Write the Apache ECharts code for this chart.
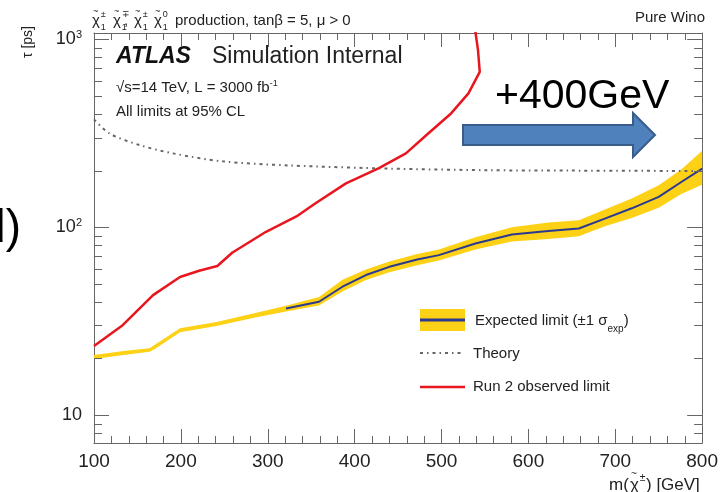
<!DOCTYPE html>
<html>
<head>
<meta charset="utf-8">
<script src="https://cdn.jsdelivr.net/npm/echarts@6/dist/echarts.min.js"></script>
<style>
  html, body { margin: 0; padding: 0; background: #fff; }
  #chart { width: 721px; height: 492px; }
</style>
</head>
<body>
<div id="chart"></div>
<script>
// Axis ranges and tick values
const massMin = 100, massMax = 800, massStep = 100;
const tauMin = 7.1, tauMax = 1080;
const tauMinorTicks = [8, 9, 20, 30, 40, 50, 60, 70, 80, 90, 200, 300, 400, 500, 600, 700, 800, 900];

// Run 2 observed limit (chargino mass [GeV], lifetime [ps])
const obsMass = [100, 133, 168, 199, 221, 242, 259, 298, 333, 355, 390, 428, 459, 485, 511, 531, 544, 542, 539];
const obsTau  = [23.3, 30.1, 43.5, 54.3, 58.6, 62.1, 73.1, 94.5, 114, 134, 171, 206, 247, 316, 403, 515, 671, 876, 1097];

// Theory prediction, pure wino
const thMass = [100, 118, 153, 191, 248, 325, 440, 551, 650, 800];
const thTau  = [375, 315, 273, 247, 224, 213, 205, 201, 200, 199];

// Expected limit with its +-1 sigma band
const expMass = [100, 134, 164, 170, 199, 241, 287, 321, 359, 386, 413, 440, 472, 497, 539, 581, 623, 658, 688, 719, 750, 776, 800];
const expTau  = [20.4, 21.4, 22.2, 23.1, 28.3, 30.5, 34.1, 36.9, 40.1, 48.2, 55.6, 61.5, 67.3, 71.0, 81.8, 91.4, 95.3, 98.4, 111, 126, 145, 174, 205];
const expLow  = [19.9, 20.9, 21.7, 22.5, 27.6, 29.8, 33.2, 35.6, 38.3, 45.5, 52.3, 57.6, 62.8, 66.5, 76.0, 84.0, 86.5, 89.5, 101, 112, 127, 150, 168];
const expHigh = [20.9, 21.9, 22.7, 23.7, 29.0, 31.3, 35.0, 38.2, 42.5, 52.5, 59.5, 65.6, 72.0, 76.0, 88.5, 100, 106, 109, 124, 142, 167, 203, 255];
const expLineFrom = 321; // central expected curve is drawn from this mass on

const FONT = '"Liberation Sans", Arial, sans-serif';
const INK = '#222';
const FRAME = '#666';
const YELLOW = '#fcd116';
const BLUE = '#2b3990';
const RED = '#e8161e';
const GREY = '#666';
const THEORY_DASH = [3, 4, 1.5, 4];

const pairs = (xs, ys) => xs.map((x, i) => [x, ys[i]]);

function yLabel(v) {
  const e = Math.round(Math.log10(v));
  if (Math.abs(Math.log10(v) - e) > 1e-6) return '';
  if (e === 1) return '{b|10}';
  if (e === 2 || e === 3) return '{b|10}{s|' + e + '}';
  return '';
}

const xAxisBase = {
  type: 'value', min: massMin, max: massMax, interval: massStep,
  axisLine: { show: true, lineStyle: { color: FRAME, width: 1 } },
  axisTick: { show: true, inside: true, length: 14, lineStyle: { color: FRAME } },
  minorTick: { show: true, splitNumber: 5, length: 7, lineStyle: { color: FRAME } },
  splitLine: { show: false }, minorSplitLine: { show: false }
};
const yAxisBase = {
  type: 'log', logBase: 10, min: tauMin, max: tauMax,
  axisLine: { show: true, lineStyle: { color: FRAME, width: 1 } },
  axisTick: { show: true, inside: true, length: 15, lineStyle: { color: FRAME } },
  minorTick: { show: false },
  splitLine: { show: false }, minorSplitLine: { show: false }
};

// chi-tilde symbol with a superscript and a subscript
function chi(x, y, size, sup, sub) {
  const s = size * 0.6;
  const out = [
    { type: 'text', x: x, y: y, style: { text: 'χ', font: size + 'px ' + FONT, fill: INK, verticalAlign: 'middle' } },
    { type: 'text', x: x + 1, y: y - size * 0.62, style: { text: '~', font: s + 'px ' + FONT, fill: INK, verticalAlign: 'middle' } },
    { type: 'text', x: x + size * 0.58, y: y - size * 0.4, style: { text: sup, font: s + 'px ' + FONT, fill: INK, verticalAlign: 'middle' } }
  ];
  if (sub) out.push({ type: 'text', x: x + size * 0.58, y: y + size * 0.45, style: { text: sub, font: s + 'px ' + FONT, fill: INK, verticalAlign: 'middle' } });
  return out;
}

const graphics = [
  ...chi(92, 21, 15, '±', '1'), ...chi(113, 21, 15, '∓', '1'),
  { type: 'text', x: 124, y: 21, style: { text: ',', font: '15px ' + FONT, fill: INK, verticalAlign: 'middle' } },
  ...chi(134, 21, 15, '±', '1'), ...chi(154, 21, 15, '0', '1'),
  { type: 'text', x: 175, y: 21, style: { text: 'production, tanβ = 5, μ > 0', font: '15px ' + FONT, fill: INK, verticalAlign: 'middle' } },
  { type: 'text', x: 705, y: 17.5, style: { text: 'Pure Wino', font: '15px ' + FONT, fill: INK, align: 'right', verticalAlign: 'middle' } },

  { type: 'text', x: 116, y: 57, style: { text: 'ATLAS', font: 'italic bold 23px ' + FONT, fill: '#111', verticalAlign: 'middle' } },
  { type: 'text', x: 212, y: 57, style: { text: 'Simulation Internal', font: '23px ' + FONT, fill: INK, verticalAlign: 'middle' } },
  { type: 'text', x: 116, y: 88, style: {
      text: '{n|√s=14 TeV, L = 3000 fb}{s|-1}', verticalAlign: 'middle',
      rich: { n: { font: '15px ' + FONT, fill: INK, lineHeight: 18 },
              s: { font: '9px ' + FONT, fill: INK, verticalAlign: 'top', lineHeight: 9 } } } },
  { type: 'text', x: 116, y: 112, style: { text: 'All limits at 95% CL', font: '15px ' + FONT, fill: INK, verticalAlign: 'middle' } },

  // legend
  { type: 'rect', shape: { x: 420, y: 309, width: 45, height: 22 }, style: { fill: YELLOW } },
  { type: 'line', shape: { x1: 420, y1: 320, x2: 465, y2: 320 }, style: { stroke: BLUE, lineWidth: 3 } },
  { type: 'text', x: 475, y: 321, style: {
      text: '{n|Expected limit (±1 σ}{u|exp}{n|)}', verticalAlign: 'middle',
      rich: { n: { font: '15px ' + FONT, fill: INK, lineHeight: 18 },
              u: { font: '10px ' + FONT, fill: INK, verticalAlign: 'bottom', lineHeight: 10, padding: [0, 0, -4, 0] } } } },
  { type: 'line', shape: { x1: 420, y1: 353, x2: 463, y2: 353 }, style: { stroke: GREY, lineWidth: 2, lineDash: THEORY_DASH } },
  { type: 'text', x: 473, y: 354, style: { text: 'Theory', font: '15px ' + FONT, fill: INK, verticalAlign: 'middle' } },
  { type: 'line', shape: { x1: 420, y1: 387, x2: 465, y2: 387 }, style: { stroke: RED, lineWidth: 2.5 } },
  { type: 'text', x: 473, y: 387, style: { text: 'Run 2 observed limit', font: '15px ' + FONT, fill: INK, verticalAlign: 'middle' } },

  // axis titles
  { type: 'text', x: 28, y: 42, rotation: Math.PI / 2, style: { text: 'τ [ps]', font: '14px ' + FONT, fill: INK, align: 'center', verticalAlign: 'middle' } },
  { type: 'text', x: 609, y: 485, style: { text: 'm(', font: '17px ' + FONT, fill: INK, verticalAlign: 'middle' } },
  ...chi(630, 485, 17, '±', null),
  { type: 'text', x: 646, y: 485, style: { text: ') [GeV]', font: '17px ' + FONT, fill: INK, verticalAlign: 'middle' } },

  // annotation: mass reach gain
  { type: 'text', x: 495, y: 97, z: 100, style: { text: '+400GeV', font: '41px ' + FONT, fill: '#000', verticalAlign: 'middle' } },
  { type: 'polygon', z: 100, shape: { points: [[463, 125], [633, 125], [633, 113], [655, 135], [633, 157], [633, 145], [463, 145]] },
    style: { fill: '#4f81bd', stroke: '#385d8a', lineWidth: 2 } },
  { type: 'text', x: 21, y: 229, z: 100, style: { text: 'd)', font: '46px ' + FONT, fill: '#000', align: 'right', verticalAlign: 'middle' } }
];

const chart = echarts.init(document.getElementById('chart'), null, { renderer: 'canvas' });
chart.setOption({
  animation: false,
  backgroundColor: '#fff',
  grid: { left: 94, right: 16, top: 33, bottom: 49, containLabel: false },
  xAxis: [
    Object.assign({}, xAxisBase, { position: 'bottom',
      axisLabel: { show: true, fontSize: 19, fontFamily: FONT, color: INK, margin: 9 } }),
    Object.assign({}, xAxisBase, { position: 'top', axisLabel: { show: false } })
  ],
  yAxis: [
    Object.assign({}, yAxisBase, { position: 'left',
      axisLabel: { show: true, margin: 12, formatter: yLabel,
        rich: { b: { fontSize: 18, fontFamily: FONT, color: INK, lineHeight: 20 },
                s: { fontSize: 11, fontFamily: FONT, color: INK, verticalAlign: 'top', lineHeight: 11 } } } }),
    Object.assign({}, yAxisBase, { position: 'right', axisLabel: { show: false } })
  ],
  graphic: graphics,
  series: [
    // +-1 sigma band: one polygon through the low edge and back along the high edge
    { name: 'band', type: 'custom', silent: true, z: 2, clip: true,
      data: expMass.map((m, i) => [m, expLow[i], expHigh[i]]), encode: { x: 0, y: [1, 2] },
      renderItem: (params, api) => {
        if (params.dataIndexInside !== 0) return null;
        const n = params.dataInsideLength;
        const lo = [], hi = [];
        for (let i = 0; i < n; i++) {
          const m = api.value(0, i);
          lo.push(api.coord([m, api.value(1, i)]));
          hi.push(api.coord([m, api.value(2, i)]));
        }
        return { type: 'polygon', shape: { points: lo.concat(hi.reverse()) }, style: { fill: YELLOW } };
      } },
    { name: 'Expected limit', type: 'line', data: pairs(expMass, expTau).filter(p => p[0] >= expLineFrom),
      symbol: 'none', lineStyle: { color: BLUE, width: 2 }, z: 3 },
    { name: 'Theory', type: 'line', data: pairs(thMass, thTau), symbol: 'none', smooth: 0.3,
      lineStyle: { color: GREY, width: 2, type: THEORY_DASH }, z: 3 },
    { name: 'Run 2 observed limit', type: 'line', data: pairs(obsMass, obsTau), symbol: 'none',
      lineStyle: { color: RED, width: 2.5 }, z: 4 },
    { name: 'minor-ticks', type: 'custom', silent: true, z: 5,
      data: tauMinorTicks.map(v => [massMin, v]), encode: { x: 0, y: 1 },
      renderItem: (params, api) => {
        const v = api.value(1);
        const l = api.coord([massMin, v]);
        const r = api.coord([massMax, v]);
        const y = Math.round(l[1]) + 0.5;
        return { type: 'group', children: [
          { type: 'line', shape: { x1: l[0], y1: y, x2: l[0] + 8, y2: y }, style: { stroke: FRAME, lineWidth: 1 } },
          { type: 'line', shape: { x1: r[0] - 8, y1: y, x2: r[0], y2: y }, style: { stroke: FRAME, lineWidth: 1 } }
        ] };
      } }
  ]
});
</script>
</body>
</html>
